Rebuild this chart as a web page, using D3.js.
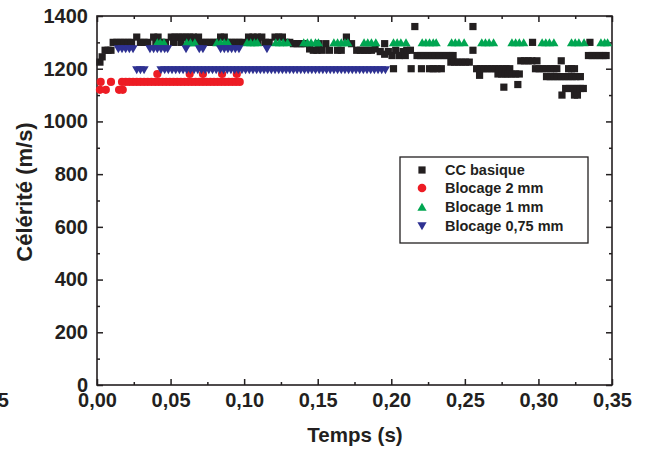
<!DOCTYPE html>
<html><head><meta charset="utf-8">
<script src="https://cdn.jsdelivr.net/npm/d3@7/dist/d3.min.js"></script>
<style>
body{margin:0;background:#fff}
svg{display:block}
text{font-family:"Liberation Sans",Arial,Helvetica,sans-serif;font-weight:bold;fill:#231f20}
</style>
</head><body>
<svg id="chart" width="650" height="450"></svg>
<script>
// ---------- data ----------
const xTicks = [0, 0.05, 0.10, 0.15, 0.20, 0.25, 0.30, 0.35];
const xTickLabels = ["0,00", "0,05", "0,10", "0,15", "0,20", "0,25", "0,30", "0,35"];
const xMinorTicks = [0.025, 0.075, 0.125, 0.175, 0.225, 0.275, 0.325];
const yTicks = [0, 200, 400, 600, 800, 1000, 1200, 1400];
const yTickLabels = ["0", "200", "400", "600", "800", "1000", "1200", "1400"];
const yMinorTicks = [100, 300, 500, 700, 900, 1100, 1300];
const seriesNames = ["CC basique", "Blocage 2 mm", "Blocage 1 mm", "Blocage 0,75 mm"];
const seriesColors = ["#231f20", "#ed1c24", "#00a651", "#2e3192"];

// CC basique : [time (s), celerity (m/s)]
const ccBasique = [
  [0.002,1225],[0.0035,1245],[0.0055,1270],[0.0075,1270],[0.0095,1270],
  [0.011,1300],[0.0135,1300],[0.016,1300],[0.0185,1300],[0.021,1300],[0.0235,1300],[0.027,1320],[0.0295,1300],
  [0.032,1300],[0.0345,1300],[0.0385,1320],[0.040,1300],[0.0415,1320],[0.044,1300],[0.0465,1300],
  [0.0505,1320],[0.052,1300],[0.053,1320],[0.0555,1320],[0.057,1300],[0.058,1320],[0.0605,1320],[0.062,1300],
  [0.063,1320],[0.0655,1320],[0.067,1300],[0.069,1320],[0.0715,1300],[0.074,1300],[0.0765,1300],[0.079,1300],
  [0.0815,1300],[0.084,1320],[0.0865,1320],[0.089,1300],[0.0915,1300],[0.094,1300],[0.0965,1300],[0.099,1300],
  [0.103,1320],[0.1045,1300],[0.106,1320],[0.109,1320],[0.1095,1300],[0.112,1320],[0.1145,1300],[0.117,1300],
  [0.121,1320],[0.1235,1320],[0.126,1320],[0.1285,1300],
  [0.131,1300],[0.1335,1295],[0.136,1295],[0.1385,1295],[0.141,1295],[0.1445,1275],[0.147,1270],[0.1495,1270],
  [0.1505,1295],[0.153,1270],[0.1555,1295],[0.158,1270],[0.1635,1270],[0.166,1270],[0.1695,1320],[0.173,1295],
  [0.1765,1270],[0.179,1270],[0.1815,1270],[0.184,1270],[0.1865,1270],[0.189,1275],[0.1925,1265],[0.1955,1295],
  [0.1955,1255],[0.198,1265],[0.2005,1250],[0.2015,1200],[0.203,1270],[0.2055,1250],[0.208,1265],[0.2095,1250],
  [0.2105,1270],[0.213,1270],[0.2135,1200],[0.216,1360],[0.2175,1250],[0.22,1250],[0.2205,1200],[0.2225,1250],
  [0.225,1250],[0.226,1200],[0.2275,1250],[0.2285,1200],[0.23,1250],[0.231,1200],[0.2325,1250],[0.234,1200],
  [0.235,1250],[0.2375,1250],[0.24,1250],[0.2405,1225],[0.242,1250],[0.243,1225],[0.2455,1225],[0.248,1225],
  [0.2505,1225],[0.253,1225],[0.2555,1270],[0.2555,1360],[0.258,1200],[0.26,1175],[0.2605,1200],[0.263,1200],
  [0.2655,1200],[0.268,1200],[0.2705,1200],[0.2725,1180],[0.273,1200],[0.275,1180],[0.2755,1200],[0.2765,1130],
  [0.2775,1180],[0.278,1200],[0.2795,1180],[0.2805,1200],[0.282,1180],[0.2845,1180],[0.286,1140],[0.287,1180],
  [0.288,1230],[0.2905,1230],[0.293,1230],[0.2955,1230],[0.296,1300],[0.298,1200],[0.299,1230],[0.3005,1200],
  [0.303,1200],[0.3055,1200],[0.3055,1170],[0.308,1200],[0.308,1170],[0.3105,1200],[0.3105,1170],[0.3125,1200],
  [0.313,1170],[0.3155,1230],[0.3155,1170],[0.316,1100],[0.318,1170],[0.3185,1125],[0.3205,1200],[0.3205,1170],
  [0.321,1125],[0.3225,1200],[0.323,1170],[0.3235,1125],[0.3245,1200],[0.3245,1100],[0.3255,1170],[0.326,1125],
  [0.3265,1100],[0.3285,1170],[0.3285,1125],[0.3305,1125],[0.334,1250],[0.335,1300],[0.3365,1250],[0.339,1250],
  [0.3415,1250],[0.344,1250],[0.346,1250]
];

// Blocage 2 mm
const blocage2 = [
  [0.0025,1150],[0.0095,1150],[0.002,1120],[0.006,1120],[0.015,1120],[0.0175,1120],
  [0.017,1150],[0.0195,1150],[0.022,1150],[0.0245,1150],[0.027,1150],[0.0295,1150],[0.032,1150],[0.0345,1150],
  [0.037,1150],[0.0395,1150],[0.042,1150],[0.0445,1150],[0.047,1150],[0.0495,1150],[0.052,1150],[0.0545,1150],
  [0.057,1150],[0.0595,1150],[0.062,1150],[0.0645,1150],[0.067,1150],[0.0695,1150],[0.072,1150],[0.0745,1150],
  [0.077,1150],[0.0795,1150],[0.082,1150],[0.0845,1150],[0.087,1150],[0.0895,1150],[0.092,1150],[0.0945,1150],
  [0.097,1150],
  [0.041,1180],[0.063,1180],[0.072,1180],[0.085,1180],[0.095,1180]
];

// Blocage 1 mm
const blocage1 = [
  [0.041,1300],[0.043,1300],[0.0455,1300],
  [0.061,1300],[0.0635,1300],[0.0665,1300],
  [0.0815,1300],[0.084,1300],[0.0865,1300],[0.089,1300],
  [0.102,1300],[0.1045,1300],[0.107,1300],[0.109,1300],
  [0.1215,1300],[0.124,1300],[0.1265,1300],[0.1295,1300],
  [0.1405,1300],[0.143,1300],[0.1455,1300],[0.1485,1300],[0.1505,1300],
  [0.161,1300],[0.1635,1300],[0.166,1300],[0.1685,1300],[0.1705,1300],
  [0.1815,1300],[0.184,1300],[0.1865,1300],[0.1895,1300],
  [0.2015,1300],[0.204,1300],[0.2065,1300],[0.21,1300],
  [0.221,1300],[0.2235,1300],[0.226,1300],[0.2285,1300],[0.2305,1300],
  [0.241,1300],[0.2435,1300],[0.246,1300],[0.2495,1300],
  [0.2615,1300],[0.264,1300],[0.2665,1300],[0.2695,1300],
  [0.282,1300],[0.2845,1300],[0.287,1300],[0.29,1300],
  [0.3025,1300],[0.305,1300],[0.3075,1300],[0.3105,1300],
  [0.3225,1300],[0.325,1300],[0.3275,1300],[0.331,1300],
  [0.3425,1300],[0.345,1300],[0.347,1300]
];

// Blocage 0,75 mm
const blocage075 = [
  [0.0145,1275],[0.017,1275],[0.0195,1275],[0.022,1275],[0.0245,1275],
  [0.027,1195],[0.0295,1195],[0.032,1195],
  [0.036,1275],[0.0385,1275],[0.041,1275],[0.0435,1275],[0.046,1275],[0.048,1275],
  [0.0605,1275],[0.0695,1275],[0.072,1275],
  [0.084,1275],[0.0865,1275],[0.089,1275],[0.0915,1275],[0.094,1275],[0.0965,1275],[0.1155,1275],
  [0.0435,1195],[0.046,1195],[0.0485,1195],[0.051,1195],[0.0535,1195],[0.056,1195],[0.0585,1195],[0.061,1195],
  [0.0635,1195],[0.066,1195],[0.0685,1195],[0.071,1195],[0.0735,1195],[0.076,1195],[0.0785,1195],[0.081,1195],
  [0.0835,1195],[0.086,1195],[0.0885,1195],[0.091,1195],[0.0935,1195],[0.096,1195],[0.0985,1195],[0.101,1195],
  [0.1035,1195],[0.106,1195],[0.1085,1195],[0.111,1195],[0.1135,1195],[0.116,1195],[0.1185,1195],[0.121,1195],
  [0.1235,1195],[0.126,1195],[0.1285,1195],[0.131,1195],[0.1335,1195],[0.136,1195],[0.1385,1195],[0.141,1195],
  [0.1435,1195],[0.146,1195],[0.1485,1195],[0.151,1195],[0.1535,1195],[0.156,1195],[0.1585,1195],[0.161,1195],
  [0.1635,1195],[0.166,1195],[0.1685,1195],[0.171,1195],[0.1735,1195],[0.176,1195],[0.1785,1195],[0.181,1195],
  [0.1835,1195],[0.186,1195],[0.1885,1195],[0.191,1195],[0.1935,1195],[0.196,1195]
];

// ---------- drawing ----------
const svg = d3.select("#chart");
const X0 = 97, X1 = 612, Y0 = 385, Y1 = 16;
const x = d3.scaleLinear().domain([0, 0.35]).range([X0, X1]);
const y = d3.scaleLinear().domain([0, 1400]).range([Y0, Y1]);
const ink = "#231f20";

function styleAxis(g, fontSize) {
  g.select(".domain").remove();
  g.selectAll("line").attr("stroke", ink).attr("stroke-width", 1.5);
  g.selectAll("text").attr("font-size", fontSize).attr("fill", ink)
    .attr("font-family", '"Liberation Sans",Arial,sans-serif').attr("font-weight", "bold");
}

// bottom
svg.append("g").attr("transform", `translate(0,${Y0})`)
  .call(d3.axisBottom(x).tickValues(xTicks).tickFormat((d, i) => xTickLabels[i]).tickSize(-6).tickPadding(8))
  .call(g => styleAxis(g, 20));
svg.append("g").attr("transform", `translate(0,${Y0})`)
  .call(d3.axisBottom(x).tickValues(xMinorTicks).tickFormat("").tickSize(-3))
  .call(g => styleAxis(g, 20));
// top
svg.append("g").attr("transform", `translate(0,${Y1})`)
  .call(d3.axisTop(x).tickValues(xTicks).tickFormat("").tickSize(-6))
  .call(g => styleAxis(g, 20));
svg.append("g").attr("transform", `translate(0,${Y1})`)
  .call(d3.axisTop(x).tickValues(xMinorTicks).tickFormat("").tickSize(-3))
  .call(g => styleAxis(g, 20));
// left
svg.append("g").attr("transform", `translate(${X0},0)`)
  .call(d3.axisLeft(y).tickValues(yTicks).tickFormat((d, i) => yTickLabels[i]).tickSize(-6).tickPadding(9))
  .call(g => styleAxis(g, 20));
svg.append("g").attr("transform", `translate(${X0},0)`)
  .call(d3.axisLeft(y).tickValues(yMinorTicks).tickFormat("").tickSize(-3))
  .call(g => styleAxis(g, 20));
// right
svg.append("g").attr("transform", `translate(${X1},0)`)
  .call(d3.axisRight(y).tickValues(yTicks).tickFormat("").tickSize(-6))
  .call(g => styleAxis(g, 20));
svg.append("g").attr("transform", `translate(${X1},0)`)
  .call(d3.axisRight(y).tickValues(yMinorTicks).tickFormat("").tickSize(-3))
  .call(g => styleAxis(g, 20));

// frame
svg.append("rect").attr("x", X0).attr("y", Y1).attr("width", X1 - X0).attr("height", Y0 - Y1)
  .attr("fill", "none").attr("stroke", ink).attr("stroke-width", 1.6);

// stray cut-off label from a neighbouring panel
svg.append("text").attr("x", 9).attr("y", 407).attr("text-anchor", "end")
  .attr("font-size", 20).text(xTickLabels[xTickLabels.length - 1]);

// markers
const triUp = "M-4.6,3.8L4.6,3.8L0,-4.2Z";
const triDown = "M-4.6,-3.8L4.6,-3.8L0,4.2Z";

svg.append("g").selectAll("rect").data(ccBasique).join("rect")
  .attr("x", d => x(d[0]) - 3.6).attr("y", d => y(d[1]) - 3.6)
  .attr("width", 7.2).attr("height", 7.2).attr("fill", seriesColors[0]);

svg.append("g").selectAll("circle").data(blocage2).join("circle")
  .attr("cx", d => x(d[0])).attr("cy", d => y(d[1])).attr("r", 4.1).attr("fill", seriesColors[1]);

svg.append("g").selectAll("path").data(blocage1).join("path")
  .attr("transform", d => `translate(${x(d[0])},${y(d[1])})`).attr("d", triUp).attr("fill", seriesColors[2]);

svg.append("g").selectAll("path").data(blocage075).join("path")
  .attr("transform", d => `translate(${x(d[0])},${y(d[1])})`).attr("d", triDown).attr("fill", seriesColors[3]);

// axis titles
svg.append("text").attr("x", 355).attr("y", 442).attr("text-anchor", "middle")
  .attr("font-size", 20.5).text("Temps (s)");
svg.append("text").attr("transform", "translate(32,192) rotate(-90)").attr("text-anchor", "middle")
  .attr("font-size", 22).text("Célérité (m/s)");

// legend
const lg = svg.append("g");
lg.append("rect").attr("x", 400).attr("y", 157).attr("width", 188).attr("height", 86)
  .attr("fill", "#fff").attr("stroke", ink).attr("stroke-width", 1.3);
const rowsY = [170, 188, 207, 226];
seriesNames.forEach((name, i) => {
  const cy = rowsY[i], cx = 422;
  if (i === 0) lg.append("rect").attr("x", cx - 3.6).attr("y", cy - 3.6).attr("width", 7.2).attr("height", 7.2).attr("fill", seriesColors[0]);
  if (i === 1) lg.append("circle").attr("cx", cx).attr("cy", cy).attr("r", 4.3).attr("fill", seriesColors[1]);
  if (i === 2) lg.append("path").attr("transform", `translate(${cx},${cy})`).attr("d", triUp).attr("fill", seriesColors[2]);
  if (i === 3) lg.append("path").attr("transform", `translate(${cx},${cy})`).attr("d", triDown).attr("fill", seriesColors[3]);
  lg.append("text").attr("x", 445).attr("y", cy).attr("dy", "0.36em").attr("font-size", 14.5).text(name);
});
</script>
</body></html>
